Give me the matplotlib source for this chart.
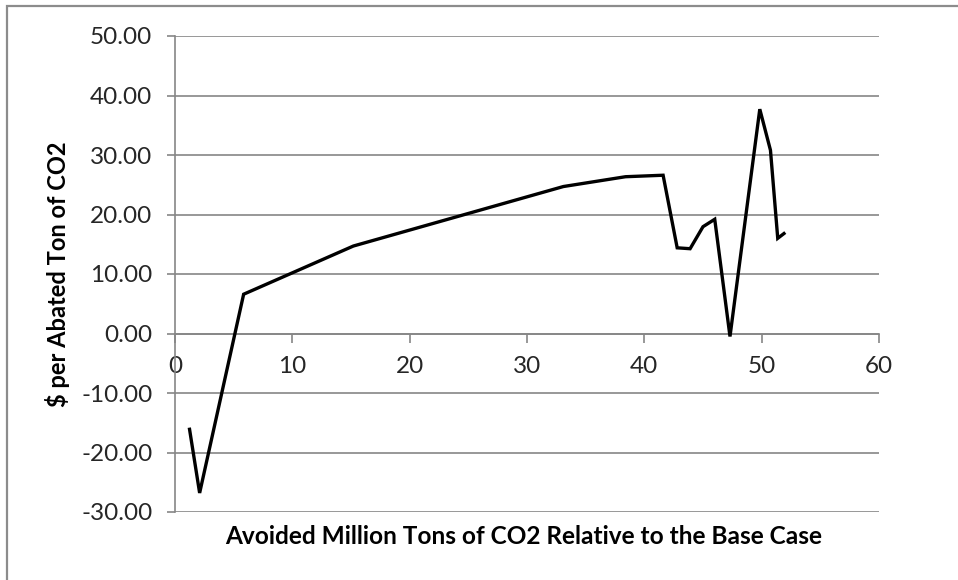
import matplotlib
matplotlib.use("Agg")
import matplotlib.pyplot as plt
from matplotlib.patches import Rectangle

# Abatement cost curve
avoided_mt = [1.24, 2.1, 5.85, 15.2, 33.1, 38.4, 41.6, 42.8, 43.9, 45.0, 46.0,
              47.3, 49.84, 50.75, 51.37, 51.9]
cost_per_ton = [-16.1, -26.8, 6.6, 14.7, 24.7, 26.35, 26.6, 14.4, 14.25, 17.95,
                19.2, -0.5, 37.7, 30.8, 16.0, 16.8]

x_ticks = [0, 10, 20, 30, 40, 50, 60]
y_ticks = [-30, -20, -10, 0, 10, 20, 30, 40, 50]

x_label = "Avoided Million Tons of CO2 Relative to the Base Case"
y_label = r"\$ per Abated Ton of CO2"

plt.rcParams["font.family"] = ["Lato", "DejaVu Sans"]

W, H = 958, 580
fig = plt.figure(figsize=(W / 100, H / 100), dpi=100)
fig.patch.set_facecolor("white")

# chart frame (left and top edges visible)
fig.patches.append(Rectangle((7 / W, -0.1), 1.2, 1 - 6 / H + 0.1,
                             transform=fig.transFigure, fill=False,
                             edgecolor="#8c8c8c", linewidth=1.6))

ax = fig.add_axes([175 / W, 1 - 512 / H, (879 - 175) / W, (512 - 36) / H])
grid_c = "#868686"

ax.plot(avoided_mt, cost_per_ton, color="black", linewidth=2.4,
        solid_joinstyle="miter", zorder=3)

ax.set_xlim(0, 60)
ax.set_ylim(-30, 50)
ax.set_xticks(x_ticks)
ax.set_yticks(y_ticks)
ax.set_yticklabels([f"{v:.2f}" for v in y_ticks])
ax.set_xticklabels([str(v) for v in x_ticks])

ax.yaxis.grid(True, color=grid_c, linewidth=1.2)
ax.set_axisbelow(True)

for s in ("top", "right"):
    ax.spines[s].set_visible(False)
ax.spines["left"].set_color(grid_c)
ax.spines["left"].set_linewidth(1.2)
ax.spines["bottom"].set_position(("data", 0))
ax.spines["bottom"].set_color(grid_c)
ax.spines["bottom"].set_linewidth(1.2)

ax.tick_params(axis="y", direction="out", length=5.8, width=1.2, color=grid_c,
               labelsize=17.5, labelcolor="#262626", pad=10.5)
ax.tick_params(axis="x", direction="out", length=6.5, width=1.2, color=grid_c,
               labelsize=17.5, labelcolor="#262626", pad=10)

fig.text(524 / W, 1 - 537 / H, x_label, ha="center", va="center",
         fontsize=17.6, fontweight="bold", color="black")
fig.text(58 / W, 1 - 274 / H, y_label, ha="center", va="center",
         rotation=90, fontsize=17, fontweight="bold", color="black")

fig.savefig("out.png", dpi=100, facecolor="white")
